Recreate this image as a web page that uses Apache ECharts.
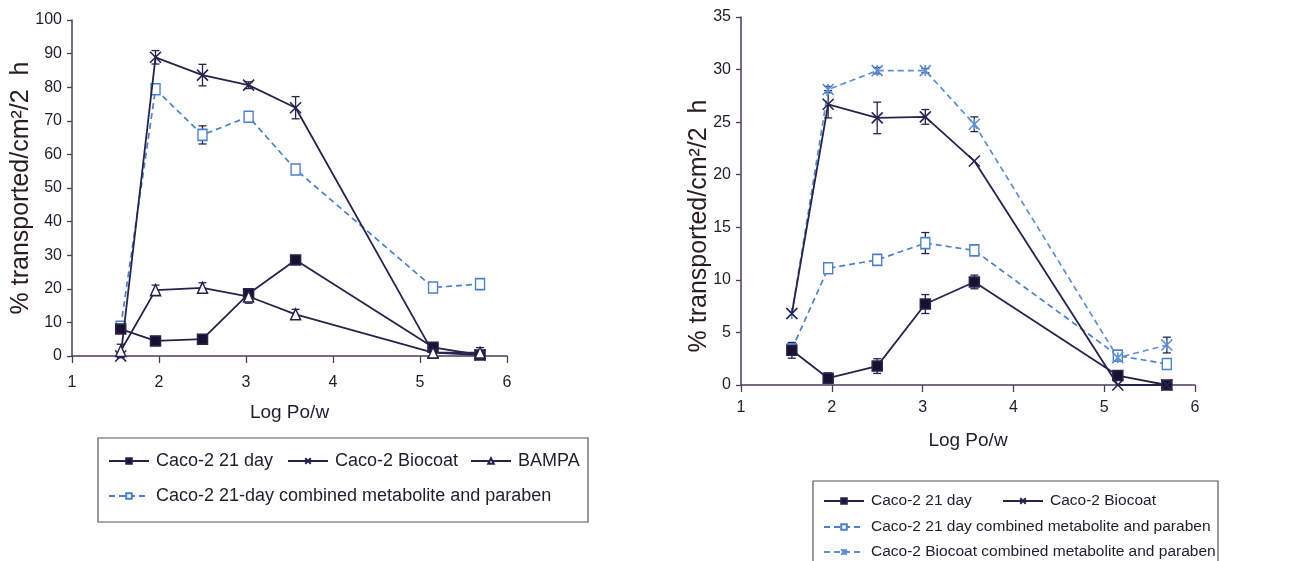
<!DOCTYPE html>
<html>
<head>
<meta charset="utf-8">
<script src="https://cdn.jsdelivr.net/npm/echarts@6/dist/echarts.min.js"></script>
<style>
html,body{margin:0;padding:0;background:#fff;}
#chart{width:1290px;height:561px;}
</style>
</head>
<body>
<div id="chart"></div>
<script>
// ---- data ----
const logPow = [1.56, 1.96, 2.5, 3.03, 3.57, 5.15, 5.69];
const xTicks = [1, 2, 3, 4, 5, 6];

// left panel
const L_caco21 = [8.0, 4.5, 5.0, 18.5, 28.6, 2.6, 0.3];
const L_caco21Err = [0, 0.8, 0.8, 1.5, 1.2, 0.8, 0];
const L_biocoat = [0.0, 88.9, 83.6, 80.6, 73.9, 1.0, 0.3];
const L_biocoatErr = [0, 2.0, 3.2, 1.0, 3.3, 0, 0];
const L_bampa = [1.5, 19.6, 20.3, 17.7, 12.4, 1.0, 1.0];
const L_bampaErr = [2.0, 1.5, 1.5, 2.0, 1.5, 0.5, 1.5];
const L_comb21 = [8.7, 79.4, 65.8, 71.2, 55.5, 20.4, 21.4];
const L_comb21Err = [1.5, 1.0, 2.7, 0.8, 0.5, 0.5, 0.5];

// right panel
const R_caco21 = [3.3, 0.65, 1.8, 7.7, 9.8, 0.9, 0.0];
const R_caco21Err = [0.75, 0.5, 0.7, 0.9, 0.65, 0.2, 0];
const R_biocoat = [6.8, 26.7, 25.4, 25.5, 21.3, 0.0, 0.0];
const R_biocoatErr = [0, 1.3, 1.5, 0.7, 0, 0, 0];
const R_comb21 = [3.4, 11.1, 11.9, 13.5, 12.8, 2.8, 2.0];
const R_comb21Err = [0.4, 0.2, 0.2, 1.0, 0.2, 0.2, 0.2];
const R_combBio = [6.8, 28.1, 29.9, 29.9, 24.8, 2.6, 3.8];
const R_combBioErr = [0, 0.3, 0.3, 0.2, 0.7, 0, 0.75];

const names = {
  caco21: 'Caco-2 21 day',
  biocoat: 'Caco-2 Biocoat',
  bampa: 'BAMPA',
  combL: 'Caco-2 21-day combined metabolite and paraben',
  combR: 'Caco-2 21 day combined metabolite and paraben',
  combBio: 'Caco-2 Biocoat combined metabolite and paraben'
};

// ---- styles ----
const NAVY = '#25244f';
const BLUE = '#4a80cf';
const BLUE2 = '#5b8fda';
const AXIS = '#4a3d58';
const TXT = '#1e1e30';
const NARROW = "'Liberation Sans Narrow', 'Arial Narrow', 'Liberation Sans', sans-serif";
const REG = "'Liberation Sans', Arial, sans-serif";

const X_PATH = 'path://M0,0 L10,10 M10,0 L0,10';
const AST_PATH = 'path://M0,0 L10,10 M10,0 L0,10 M5,0 L5,10';

function pts(vals) { return logPow.map((x, i) => [x, vals[i]]); }
function errPts(vals, errs) {
  const out = [];
  logPow.forEach((x, i) => { if (errs[i] > 0) out.push([x, vals[i] - errs[i], vals[i] + errs[i]]); });
  return out;
}

function lineSeries(name, vals, gi, opt) {
  return {
    type: 'line', name: name, xAxisIndex: gi, yAxisIndex: gi,
    data: pts(vals), symbol: opt.symbol, symbolSize: opt.size,
    showAllSymbol: true,
    lineStyle: { color: opt.color, width: opt.width || 1.8, type: opt.dash ? [6, 4] : 'solid' },
    itemStyle: { color: opt.fill, borderColor: opt.color, borderWidth: opt.bw || 1.5 },
    emphasis: { disabled: true }, z: opt.z || 3, animation: false
  };
}

function errSeries(vals, errs, gi, color) {
  return {
    type: 'custom', xAxisIndex: gi, yAxisIndex: gi, z: 2, animation: false,
    silent: true,
    data: errPts(vals, errs),
    renderItem: function (params, api) {
      const lo = api.coord([api.value(0), api.value(1)]);
      const hi = api.coord([api.value(0), api.value(2)]);
      const w = 4;
      return {
        type: 'group',
        children: [
          { type: 'line', shape: { x1: lo[0], y1: lo[1], x2: hi[0], y2: hi[1] }, style: { stroke: color, lineWidth: 1.3 } },
          { type: 'line', shape: { x1: lo[0] - w, y1: lo[1], x2: lo[0] + w, y2: lo[1] }, style: { stroke: color, lineWidth: 1.3 } },
          { type: 'line', shape: { x1: hi[0] - w, y1: hi[1], x2: hi[0] + w, y2: hi[1] }, style: { stroke: color, lineWidth: 1.3 } }
        ]
      };
    }
  };
}

function xAxis(gi, gap, margin) {
  return {
    type: 'value', gridIndex: gi, min: 1, max: 6, interval: 1,
    name: 'Log Po/w', nameLocation: 'middle', nameGap: gap,
    nameTextStyle: { fontFamily: NARROW, fontSize: 19, color: TXT },
    axisLine: { show: true, lineStyle: { color: AXIS, width: 1.5 } },
    axisTick: { show: true, length: 7, lineStyle: { color: AXIS, width: 1.3 } },
    axisLabel: { fontFamily: NARROW, fontSize: 16, color: TXT, margin: margin },
    splitLine: { show: false }
  };
}
function yAxis(gi, max, interval) {
  return {
    type: 'value', gridIndex: gi, min: 0, max: max, interval: interval,
    axisLine: { show: true, lineStyle: { color: AXIS, width: 1.5 } },
    axisTick: { show: true, length: 5, lineStyle: { color: AXIS, width: 1.3 } },
    axisLabel: { fontFamily: NARROW, fontSize: 16, color: TXT, margin: 10 },
    splitLine: { show: false }
  };
}

function legendItem(name, left, top, fs) {
  return {
    data: [name], left: left, top: top, orient: 'horizontal',
    itemWidth: 40, itemHeight: 7, itemGap: 0, padding: 0,
    selectedMode: false,
    textStyle: { fontFamily: NARROW, fontSize: fs, color: TXT, padding: [0, 0, 0, 2] }
  };
}

const series = [
  // left
  errSeries(L_biocoat, L_biocoatErr, 0, NAVY),
  errSeries(L_comb21, L_comb21Err, 0, NAVY),
  errSeries(L_bampa, L_bampaErr, 0, NAVY),
  errSeries(L_caco21, L_caco21Err, 0, NAVY),
  lineSeries(names.combL, L_comb21, 0, { symbol: 'rect', size: [9, 11], color: BLUE, fill: '#fff', dash: true, width: 1.7 }),
  lineSeries(names.caco21, L_caco21, 0, { symbol: 'rect', size: 10, color: NAVY, fill: '#1a1030', z: 4 }),
  lineSeries(names.biocoat, L_biocoat, 0, { symbol: X_PATH, size: 11, color: NAVY, fill: 'none', bw: 1.6, z: 4 }),
  lineSeries(names.bampa, L_bampa, 0, { symbol: 'triangle', size: [10, 11], color: NAVY, fill: '#fff', z: 4 }),
  // right
  errSeries(R_caco21, R_caco21Err, 1, NAVY),
  errSeries(R_biocoat, R_biocoatErr, 1, NAVY),
  errSeries(R_comb21, R_comb21Err, 1, NAVY),
  errSeries(R_combBio, R_combBioErr, 1, NAVY),
  lineSeries(names.combR, R_comb21, 1, { symbol: 'rect', size: [9, 11], color: BLUE, fill: '#fff', dash: true, width: 1.7 }),
  lineSeries(names.combBio, R_combBio, 1, { symbol: AST_PATH, size: 11, color: BLUE2, fill: 'none', dash: true, width: 1.7, bw: 1.6 }),
  lineSeries(names.caco21, R_caco21, 1, { symbol: 'rect', size: 10, color: NAVY, fill: '#1a1030', z: 4 }),
  lineSeries(names.biocoat, R_biocoat, 1, { symbol: X_PATH, size: 11, color: NAVY, fill: 'none', bw: 1.6, z: 4 })
];

const option = {
  backgroundColor: '#ffffff',
  animation: false,
  grid: [
    { left: 72, top: 20, width: 435, height: 336 },
    { left: 741, top: 17, width: 454, height: 368 }
  ],
  xAxis: [xAxis(0, 47, 19), xAxis(1, 46, 15)],
  yAxis: [yAxis(0, 100, 10), yAxis(1, 35, 5)],
  legend: [
    legendItem(names.caco21, 108, 452, 18),
    legendItem(names.biocoat, 287, 452, 18),
    legendItem(names.bampa, 470, 452, 18),
    legendItem(names.combL, 108, 487, 18),
    legendItem(names.caco21, 823, 493, 15.5),
    legendItem(names.biocoat, 1002, 493, 15.5),
    legendItem(names.combR, 823, 519, 15.5),
    legendItem(names.combBio, 823, 544, 15.5)
  ],
  graphic: [
    { type: 'rect', shape: { x: 98, y: 438, width: 490, height: 84 }, style: { fill: 'none', stroke: '#5a5060', lineWidth: 1.2 }, silent: true },
    { type: 'rect', shape: { x: 813, y: 481, width: 405, height: 100 }, style: { fill: 'none', stroke: '#5a5060', lineWidth: 1.2 }, silent: true },
    { type: 'text', x: 21, y: 188, rotation: Math.PI / 2,
      style: { text: '% transported/cm\u00b2/2  h', fontFamily: REG, fontSize: 25, fill: '#2a1c22', align: 'center', verticalAlign: 'middle' } },
    { type: 'text', x: 699, y: 226, rotation: Math.PI / 2,
      style: { text: '% transported/cm\u00b2/2  h', fontFamily: REG, fontSize: 25, fill: '#2a1c22', align: 'center', verticalAlign: 'middle' } }
  ],
  series: series
};

const chart = echarts.init(document.getElementById('chart'), null, { renderer: 'canvas' });
chart.setOption(option);
</script>
</body>
</html>
